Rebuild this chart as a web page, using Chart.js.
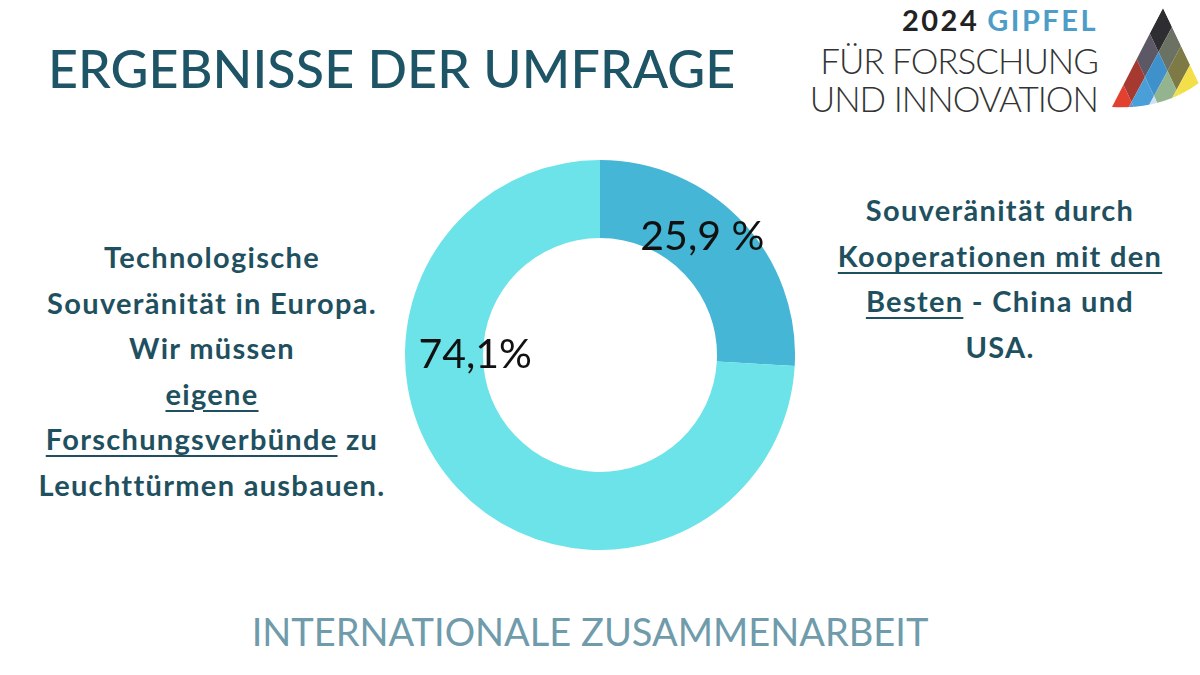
<!DOCTYPE html>
<html lang="de">
<head>
<meta charset="utf-8">
<title>Ergebnisse der Umfrage</title>
<script src="https://cdn.jsdelivr.net/npm/chart.js@4.4.1/dist/chart.umd.min.js"></script>
<style>
  html, body { margin: 0; padding: 0; background: #fff; }
  body { width: 1200px; height: 675px; position: relative; overflow: hidden; font-family: Lato, "Open Sans", sans-serif; }
  .title { position: absolute; left: 48px; top: 37px; font-size: 52px; font-weight: 500; color: #1e5566; letter-spacing: 0.1px; white-space: nowrap; }
  .side { position: absolute; text-align: center; font-weight: 700; color: #1f5060; font-size: 29px; letter-spacing: 1.3px; line-height: 45.5px; white-space: nowrap; }
  .side u { text-decoration-thickness: 2px; text-underline-offset: 5px; }
  #leftText { left: 12px; width: 400px; top: 234px; }
  #rightText { left: 800px; width: 400px; top: 187px; }
  .footer { position: absolute; left: 0; width: 1180px; text-align: center; top: 608px; font-size: 38px; font-weight: 400; color: #6f9bab; white-space: nowrap; }
  .logo { position: absolute; right: 102px; text-align: right; white-space: nowrap; }
  #l1 { top: 2px; font-size: 29px; font-weight: 700; color: #222; letter-spacing: 2.5px; }
  #l1 span { color: #4d9dc8; margin-left: 8px; }
  #l2 { top: 39px; font-size: 35px; font-weight: 300; color: #333; letter-spacing: -1px; }
  #l3 { top: 77px; font-size: 35px; font-weight: 300; color: #333; letter-spacing: -1px; }
  #logoMark { position: absolute; left: 1100px; top: 0; }
  #chartBox { position: absolute; left: 405px; top: 160px; width: 390px; height: 390px; }
</style>
</head>
<body>
<div class="title">ERGEBNISSE DER UMFRAGE</div>

<div class="logo" id="l1">2024<span>GIPFEL</span></div>
<div class="logo" id="l2">FÜR FORSCHUNG</div>
<div class="logo" id="l3">UND INNOVATION</div>
<canvas id="logoMark" width="100" height="115"></canvas>

<div class="side" id="leftText">Technologische<br>Souveränität in Europa.<br>Wir müssen<br><u>eigene</u><br><u>Forschungsverbünde</u> zu<br>Leuchttürmen ausbauen.</div>
<div class="side" id="rightText">Souveränität durch<br><u>Kooperationen mit den</u><br><u>Besten</u> - China und<br>USA.</div>

<div id="chartBox"><canvas id="donut"></canvas></div>

<div class="footer">INTERNATIONALE ZUSAMMENARBEIT</div>

<script>
// Daten der Umfrage
const categories = ['Kooperationen mit den Besten - China und USA', 'Eigene Forschungsverbünde in Europa'];
const values = [25.9, 74.1];
const valueLabels = ['25,9 %', '74,1%'];
const colors = ['#45b6d6', '#6ce3e8'];

// Logo: Rauten-Fächer (nur Dekoration)
function drawLogo() {
    const ctx = document.getElementById('logoMark').getContext('2d');
    const apex = [63, 8];
    const left = [-13.5, 25];   // Schritt entlang linker Kante
    const right = [9, 19];      // Schritt entlang rechter Kante
    const cells = [
        ['#2e2e32', '#6c7263', '#7d7a46', '#f3df4a'],
        ['#5c5866', '#3e91cb', '#93b48f', '#f3df4a'],
        ['#a63a30', '#4a9fd8', '#cfe0f5', '#93b48f'],
        ['#e2412f', '#6a8ed2', '#a6c9f0', '#cfe0f5'],
        ['#ee8068', '#9ec4ef', '#a6c9f0', '#cfe0f5']
    ];
    ctx.save();
    ctx.beginPath();
    ctx.moveTo(apex[0], apex[1]);
    ctx.lineTo(12, 107);
    ctx.quadraticCurveTo(62, 110, 99, 83);
    ctx.closePath();
    ctx.clip();
    for (let u = 0; u < cells.length; u++) {
        for (let v = 0; v < cells[u].length; v++) {
            const x0 = apex[0] + u * left[0] + v * right[0];
            const y0 = apex[1] + u * left[1] + v * right[1];
            ctx.beginPath();
            ctx.moveTo(x0, y0);
            ctx.lineTo(x0 + left[0], y0 + left[1]);
            ctx.lineTo(x0 + left[0] + right[0], y0 + left[1] + right[1]);
            ctx.lineTo(x0 + right[0], y0 + right[1]);
            ctx.closePath();
            ctx.fillStyle = cells[u][v];
            ctx.fill();
        }
    }
    ctx.restore();
}
drawLogo();

// Beschriftungen: Position in Polarkoordinaten (Winkel im Uhrzeigersinn ab oben, Radius relativ zum Außenradius)
const labelAngles = [41, 270];
const labelRadius = [0.8, 0.64];

const valueLabelPlugin = {
    id: 'valueLabels',
    afterDatasetsDraw(chart) {
        const ctx = chart.ctx;
        const meta = chart.getDatasetMeta(0);
        ctx.save();
        ctx.font = '41px Lato, sans-serif';
        ctx.fillStyle = '#111';
        ctx.textAlign = 'center';
        ctx.textBaseline = 'middle';
        meta.data.forEach((arc, i) => {
            const p = arc.getProps(['x', 'y', 'startAngle', 'endAngle', 'outerRadius'], true);
            let a = (p.startAngle + p.endAngle) / 2;
            if (labelAngles[i] !== null) a = (labelAngles[i] - 90) * Math.PI / 180;
            const r = p.outerRadius * labelRadius[i];
            ctx.fillText(valueLabels[i], p.x + Math.cos(a) * r, p.y + Math.sin(a) * r);
        });
        ctx.restore();
    }
};

new Chart(document.getElementById('donut'), {
    type: 'doughnut',
    data: {
        labels: categories,
        datasets: [{
            data: values,
            backgroundColor: colors,
            borderWidth: 0
        }]
    },
    options: {
        responsive: true,
        maintainAspectRatio: false,
        animation: false,
        cutout: '60%',
        layout: { padding: 0 },
        plugins: {
            legend: { display: false },
            tooltip: { enabled: false }
        }
    },
    plugins: [valueLabelPlugin]
});
</script>
</body>
</html>
